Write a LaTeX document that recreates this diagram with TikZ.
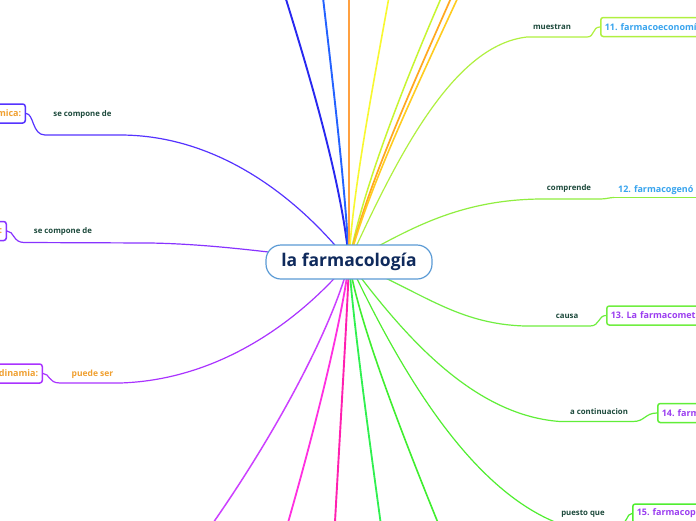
\documentclass[tikz,border=0pt]{standalone}
\usepackage{fontspec}
\setmainfont{Open Sans}
\usetikzlibrary{backgrounds}
\definecolor{cb}{HTML}{5B9BD5}
\definecolor{ct}{HTML}{0F2A5C}
\definecolor{labc}{HTML}{1D4A3C}
\definecolor{orc}{HTML}{F0A030}
\definecolor{bluet}{HTML}{38A4EE}
\definecolor{purpt}{HTML}{9B3DF0}
\definecolor{ca}{HTML}{2828F0}
\definecolor{cbl}{HTML}{2462FF}
\definecolor{cor}{HTML}{FFA040}
\definecolor{cye}{HTML}{F8F830}
\definecolor{cyg}{HTML}{C8F530}
\definecolor{cor2}{HTML}{FFA820}
\definecolor{cgo}{HTML}{FFCC20}
\definecolor{cmu}{HTML}{B0F040}
\definecolor{cco}{HTML}{90EE40}
\definecolor{cca}{HTML}{70EE40}
\definecolor{cac}{HTML}{60EE38}
\definecolor{cpq}{HTML}{50EE30}
\definecolor{cg1}{HTML}{30F050}
\definecolor{cg2}{HTML}{40EE30}
\definecolor{cpk}{HTML}{FF20B0}
\definecolor{cmg}{HTML}{FF30E0}
\definecolor{cvi}{HTML}{CC40FF}
\definecolor{cl1}{HTML}{5533FF}
\definecolor{cl2}{HTML}{8833FF}
\definecolor{cl3}{HTML}{AA33FF}
\begin{document}
\frenchspacing
\begin{tikzpicture}[x=1pt,y=-1pt,
  br/.style={line width=#1, line cap=round},
  lbl/.style={font=\bfseries\fontsize{7.8}{9}\selectfont, text=labc, inner sep=0pt},
  rbox/.style={draw=#1, line width=1.5pt, rounded corners=2.5pt, fill=white, anchor=west,
    minimum height=19pt, inner xsep=4pt, inner ysep=0pt, text width=120pt, align=left,
    font=\bfseries\fontsize{9}{11}\selectfont},
  lbox/.style={draw=#1, line width=1.5pt, rounded corners=2.5pt, fill=white, anchor=east,
    minimum height=19pt, inner xsep=4pt, inner ysep=0pt, text width=90pt, align=right,
    text=orc, font=\bfseries\fontsize{9}{11}\selectfont}]
\useasboundingbox (0,0) rectangle (696,520);
\clip (0,0) rectangle (696,520);

% central topic
\node[draw=cb, line width=1.2pt, fill=white, rounded corners=15pt, minimum width=166pt,
  minimum height=34pt, inner sep=0pt, text=ct, font=\bfseries\fontsize{17.5}{20}\selectfont]
  (c) at (349,262) {la farmacología};

% off-frame ends
\coordinate (t1) at (280,-20);
\coordinate (t2) at (321,-20);
\coordinate (t3) at (349,-20);
\coordinate (t4) at (392,-20);
\coordinate (t5) at (449,-20);
\coordinate (t6) at (459,-20);
\coordinate (t7) at (466,-20);
\coordinate (b1) at (201,540);
\coordinate (b2) at (283,540);
\coordinate (b3) at (334,540);
\coordinate (b4) at (383,540);
\coordinate (b5) at (445,540);

% nodes
\node[lbox=cl1] (n1) at (26,113.5) {mica:};
\node[lbox=cl2] (n2) at (7,231) {:};
\node[lbox=cl3] (n3) at (43,373.5) {dinamia:};
\node[rbox=cmu, text=bluet] (n11) at (600,27) {11. farmacoeconomí};
\node[anchor=south west, inner xsep=4pt, inner ysep=2.5pt, text width=120pt, align=left,
  text=bluet, font=\bfseries\fontsize{9}{11}\selectfont] (n12) at (614,197.5) {12. farmacogenó};
\node[rbox=cca, text=purpt] (n13) at (606,315.5) {13. La farmacomet};
\node[rbox=cac, text=purpt] (n14) at (657,413) {14. farm};
\node[rbox=cpq, text=purpt] (n15) at (632,513.5) {15. farmacop};

% labels
\node[lbl] (l1) at (82.5,114) {se compone de};
\node[lbl] (l2) at (63,231) {se compone de};
\node[lbl, text=orc, font=\bfseries\fontsize{8.5}{10}\selectfont] (l3) at (92.5,374) {puede ser};
\node[lbl] (l11) at (552,27) {muestran};
\node[lbl] (l12) at (569,188) {comprende};
\node[lbl] (l13) at (567,316) {causa};
\node[lbl] (l14) at (599,412) {a continuacion};
\node[lbl] (l15) at (583,514) {puesto que};

\begin{scope}[on background layer]
\fill[white] (0,0) rectangle (696,520);
\clip (0,0) rectangle (696,520);
% top branches
\draw[br=1.9pt, ca]  (c.center) .. controls (342,180) and (305,60) .. (t1);
\draw[br=1.9pt, cbl] (c.center) .. controls (345,180) and (330,60) .. (t2);
\draw[br=1.9pt, cor] (c.center) -- (t3);
\draw[br=1.6pt, cye] (c.center) .. controls (352,190) and (378,60) .. (t4);
\draw[br=1.5pt, cyg] (c.center) .. controls (362,190) and (405,80) .. (t5);
\draw[br=1.7pt, cor2] (c.center) .. controls (365,190) and (415,80) .. (t6);
\draw[br=1.6pt, cgo] (c.center) .. controls (367,190) and (420,80) .. (t7);
% bottom branches
\draw[br=1.5pt, cvi] (c.center) .. controls (335,320) and (280,430) .. (b1);
\draw[br=1.8pt, cmg] (c.center) .. controls (342,320) and (315,430) .. (b2);
\draw[br=1.9pt, cpk] (c.center) .. controls (347,320) and (340,430) .. (b3);
\draw[br=1.8pt, cg1] (c.center) .. controls (353,320) and (368,430) .. (b4);
\draw[br=1.6pt, cg2] (c.center) .. controls (358,320) and (400,430) .. (b5);
% right sub-branches
\draw[br=1.2pt, cmu] (c.center) .. controls (400,150) and (455,45) .. (527,37) -- (587,37)
  .. controls (595,37) and (592,27) .. (n11.west);
\draw[br=1.2pt, cco] (c.center) .. controls (405,232) and (455,200) .. (540,199) -- (600,199)
  .. controls (607,199) and (609,197.5) .. (n12.south west);
\draw[br=1.2pt, cco] (n12.south west) -- (n12.south east);
\draw[br=1.2pt, cca] (c.center) .. controls (420,290) and (455,324) .. (525,326) -- (590,326)
  .. controls (600,326) and (598,315.5) .. (n13.west);
\draw[br=1.2pt, cac] (c.center) .. controls (400,330) and (470,415) .. (560,421.5) -- (633,421.5)
  .. controls (645,421.5) and (645,413) .. (n14.west);
\draw[br=1.2pt, cpq] (c.center) .. controls (400,370) and (470,490) .. (560,524) -- (620,524)
  .. controls (628,524) and (626,513.5) .. (n15.west);
% left sub-branches
\draw[br=1.2pt, cl1] (n1.east) .. controls (34,113.5) and (32,135) .. (45,135) -- (120,135)
  .. controls (220,135) and (300,200) .. (c.center);
\draw[br=1.2pt, cl2] (n2.east) .. controls (14,231) and (13,242.5) .. (24,242.5) -- (150,243)
  .. controls (210,244) and (270,252) .. (c.center);
\draw[br=1.2pt, cl3] (n3.east) .. controls (50,373.5) and (48,383) .. (60,383) -- (120,383)
  .. controls (220,380) and (300,320) .. (c.center);
\end{scope}
\end{tikzpicture}
\end{document}
